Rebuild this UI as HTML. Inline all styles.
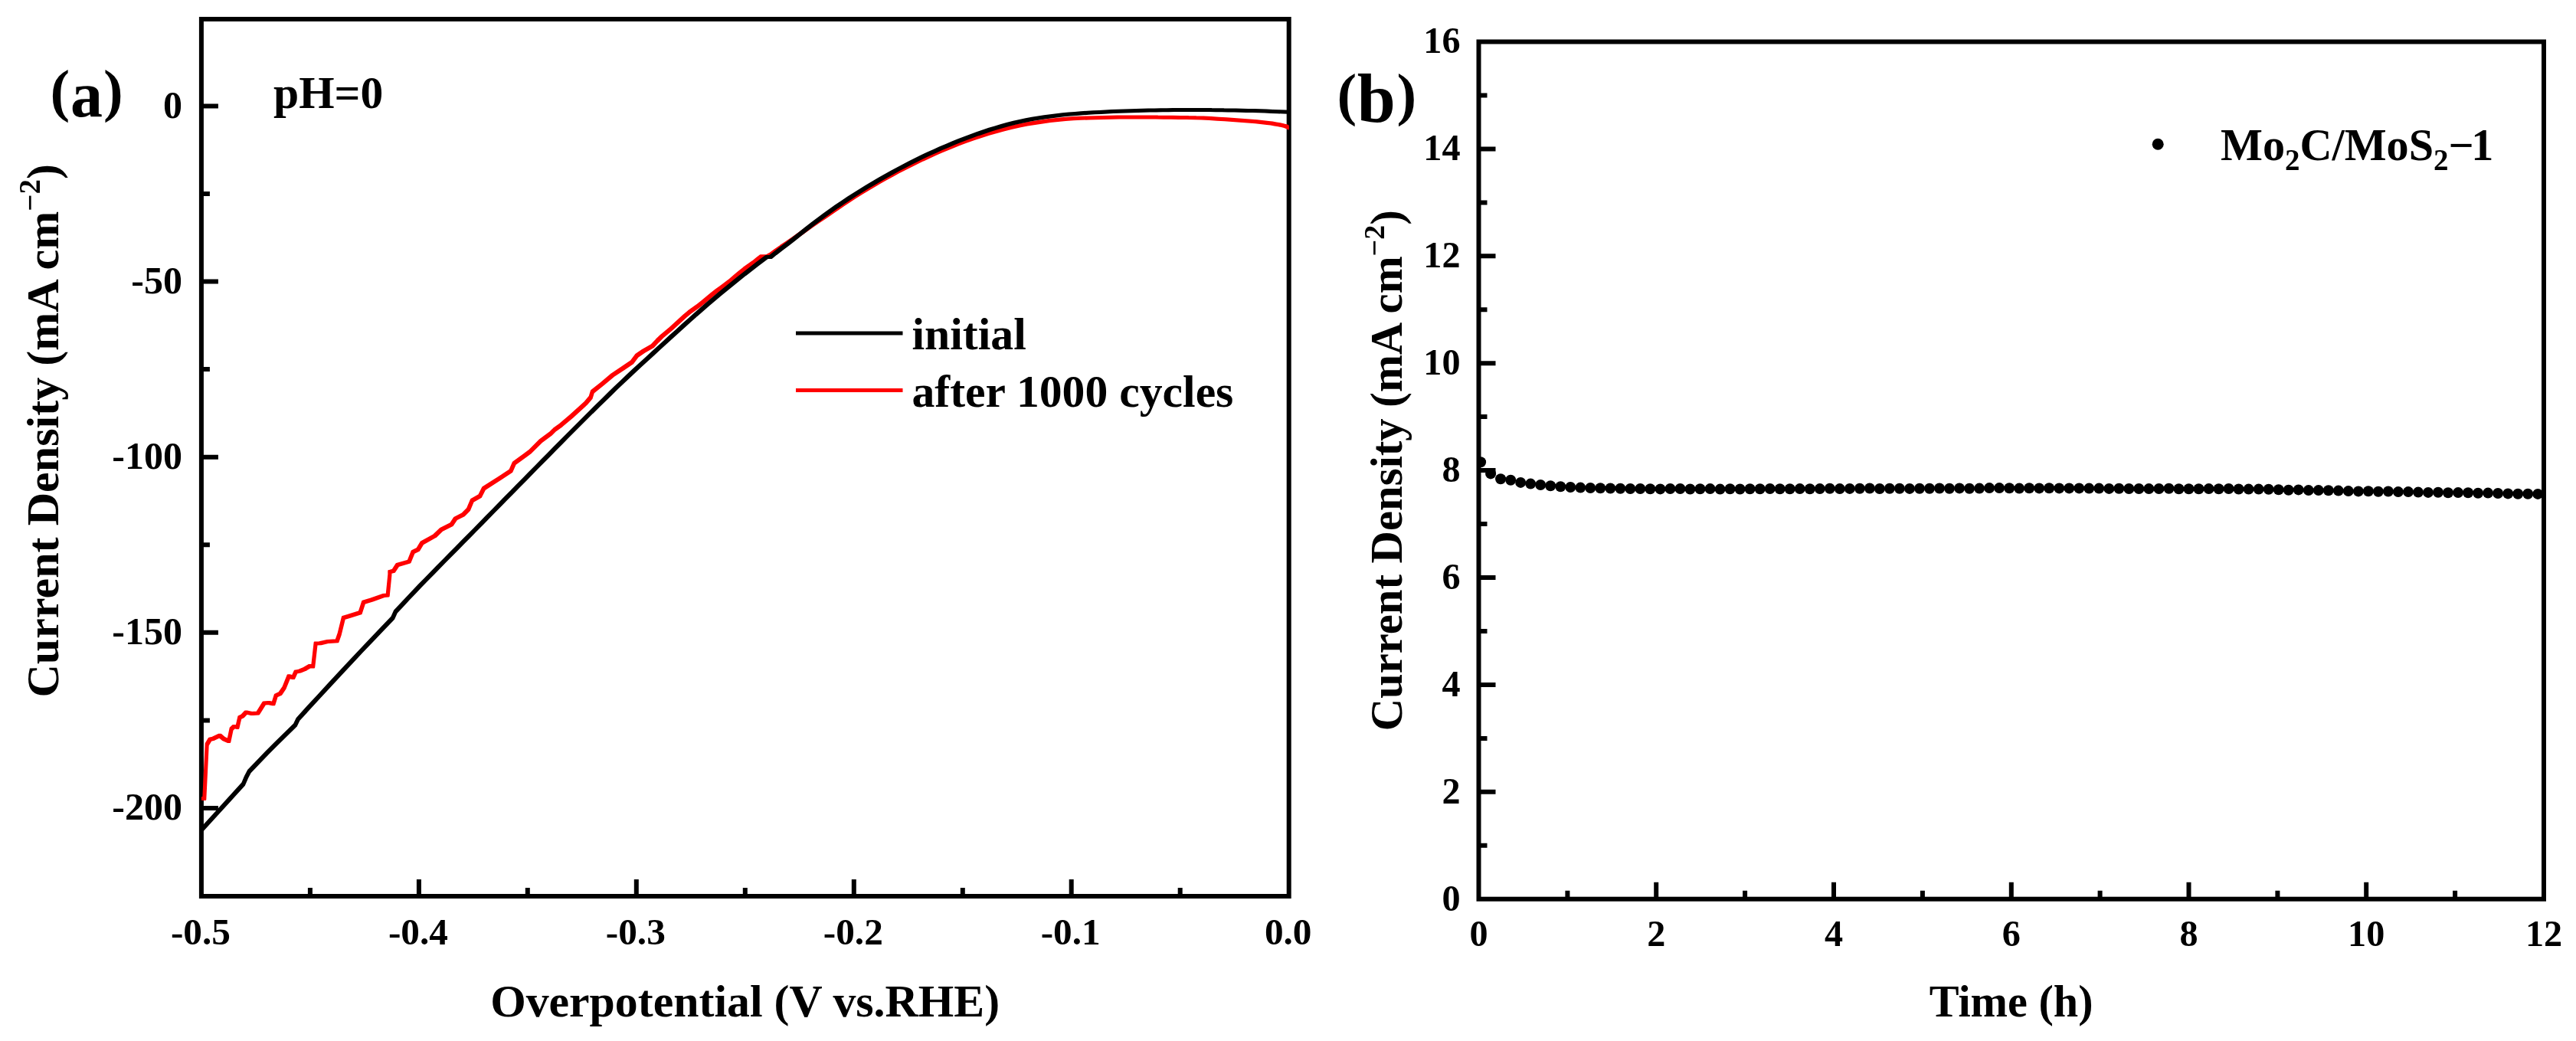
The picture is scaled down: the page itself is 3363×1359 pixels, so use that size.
<!DOCTYPE html>
<html><head><meta charset="utf-8"><title>Figure</title>
<style>
html,body{margin:0;padding:0;background:#fff;}
svg{display:block;}
text{font-family:"Liberation Serif","Times New Roman",serif;font-weight:bold;fill:#000;}
</style></head><body>
<svg width="3363" height="1359" viewBox="0 0 3363 1359">
<rect width="3363" height="1359" fill="#fff"/>
<filter id="soft" x="0" y="0" width="3363" height="1359" filterUnits="userSpaceOnUse"><feGaussianBlur stdDeviation="0.55"/></filter>
<g filter="url(#soft)">

<g id="panel-a">
<clipPath id="clipa"><rect x="262.9" y="25.0" width="1419.8000000000002" height="1145.0"/></clipPath>
<path d="M262.9,138.5h22 M262.9,253.1h11 M262.9,367.6h22 M262.9,482.1h11 M262.9,596.7h22 M262.9,711.2h11 M262.9,825.8h22 M262.9,940.4h11 M262.9,1054.9h22 M404.9,1170.0v-11 M546.9,1170.0v-22 M688.8,1170.0v-11 M830.8,1170.0v-22 M972.8,1170.0v-11 M1114.8,1170.0v-22 M1256.8,1170.0v-11 M1398.7,1170.0v-22 M1540.7,1170.0v-11" stroke="#000" stroke-width="6.0" fill="none"/>
<rect x="262.9" y="25.0" width="1419.8" height="1145.0" fill="none" stroke="#000" stroke-width="6.0"/>
<g clip-path="url(#clipa)" stroke-width="2.6" stroke-linejoin="round">
<path d="M263.9,1041.3L268.0,1041.3L268.0,1043.7L263.9,1043.7ZM265.6,1041.3L269.0,970.7L271.4,970.7L271.4,973.1L268.0,1043.7L265.6,1043.7ZM269.0,970.7L273.0,964.0L275.4,964.0L275.4,966.4L271.4,973.1L269.0,973.1ZM273.0,964.0L277.4,963.0L279.8,963.0L279.8,965.4L275.4,966.4L273.0,966.4ZM277.4,963.0L285.8,959.0L288.2,959.0L288.2,961.4L279.8,965.4L277.4,965.4ZM285.8,959.0L288.2,959.0L293.2,963.3L293.2,965.7L290.8,965.7L285.8,961.4ZM290.8,963.3L293.2,963.3L300.0,966.4L300.0,968.8L297.6,968.8L290.8,965.7ZM297.6,966.4L300.9,950.5L303.3,950.5L303.3,952.9L300.0,968.8L297.6,968.8ZM300.9,950.5L304.3,947.2L306.7,947.2L306.7,949.6L303.3,952.9L300.9,952.9ZM304.3,947.2L306.7,947.2L311.1,948.2L311.1,950.6L308.7,950.6L304.3,949.6ZM308.7,948.2L311.7,935.4L314.1,935.4L314.1,937.8L311.1,950.6L308.7,950.6ZM311.7,935.4L315.4,933.7L317.8,933.7L317.8,936.1L314.1,937.8L311.7,937.8ZM315.4,933.7L320.1,928.7L322.5,928.7L322.5,931.1L317.8,936.1L315.4,936.1ZM320.1,928.7L322.5,928.7L330.2,930.4L330.2,932.8L327.8,932.8L320.1,931.1ZM327.8,930.4L335.6,929.7L338.0,929.7L338.0,932.1L330.2,932.8L327.8,932.8ZM335.6,929.7L343.6,916.9L346.0,916.9L346.0,919.3L338.0,932.1L335.6,932.1ZM343.6,916.9L349.7,916.3L352.1,916.3L352.1,918.7L346.0,919.3L343.6,919.3ZM349.7,916.3L352.1,916.3L358.1,917.6L358.1,920.0L355.7,920.0L349.7,918.7ZM355.7,917.6L359.1,906.8L361.5,906.8L361.5,909.2L358.1,920.0L355.7,920.0ZM359.1,906.8L364.8,904.1L367.2,904.1L367.2,906.5L361.5,909.2L359.1,909.2ZM364.8,904.1L369.8,896.7L372.2,896.7L372.2,899.1L367.2,906.5L364.8,906.5ZM369.8,896.7L375.9,881.6L378.3,881.6L378.3,884.0L372.2,899.1L369.8,899.1ZM375.9,881.6L378.3,881.6L384.0,883.3L384.0,885.7L381.6,885.7L375.9,884.0ZM381.6,883.3L385.0,875.9L387.4,875.9L387.4,878.3L384.0,885.7L381.6,885.7ZM385.0,875.9L390.0,874.9L392.4,874.9L392.4,877.3L387.4,878.3L385.0,878.3ZM390.0,874.9L396.7,872.2L399.1,872.2L399.1,874.6L392.4,877.3L390.0,877.3ZM396.7,872.2L403.5,868.2L405.9,868.2L405.9,870.6L399.1,874.6L396.7,874.6ZM403.5,868.2L405.9,868.2L409.9,868.8L409.9,871.2L407.5,871.2L403.5,870.6ZM407.5,868.8L410.9,838.9L413.3,838.9L413.3,841.3L409.9,871.2L407.5,871.2ZM410.9,838.9L416.9,838.6L419.3,838.6L419.3,841.0L413.3,841.3L410.9,841.3ZM416.9,838.6L427.0,836.2L429.4,836.2L429.4,838.6L419.3,841.0L416.9,841.0ZM427.0,836.2L438.8,835.6L441.2,835.6L441.2,838.0L429.4,838.6L427.0,838.6ZM438.8,835.6L442.1,826.1L444.5,826.1L444.5,828.5L441.2,838.0L438.8,838.0ZM442.1,826.1L447.2,805.3L449.6,805.3L449.6,807.7L444.5,828.5L442.1,828.5ZM447.2,805.3L453.9,803.3L456.3,803.3L456.3,805.7L449.6,807.7L447.2,807.7ZM453.9,803.3L469.0,798.6L471.4,798.6L471.4,801.0L456.3,805.7L453.9,805.7ZM469.0,798.6L473.4,785.1L475.8,785.1L475.8,787.5L471.4,801.0L469.0,801.0ZM473.4,785.1L484.2,781.8L486.6,781.8L486.6,784.2L475.8,787.5L473.4,787.5ZM484.2,781.8L499.3,776.4L501.7,776.4L501.7,778.8L486.6,784.2L484.2,784.2ZM499.3,776.4L505.0,775.7L507.4,775.7L507.4,778.1L501.7,778.8L499.3,778.8ZM505.0,775.7L507.7,748.8L510.1,748.8L510.1,751.2L507.4,778.1L505.0,778.1ZM507.6,745.4L510.0,745.4L510.1,748.8L510.1,751.2L507.7,751.2L507.6,747.8ZM507.6,745.4L512.7,744.0L515.1,744.0L515.1,746.4L510.0,747.8L507.6,747.8ZM512.7,744.0L517.7,736.3L520.1,736.3L520.1,738.7L515.1,746.4L512.7,746.4ZM517.7,736.3L532.9,731.9L535.3,731.9L535.3,734.3L520.1,738.7L517.7,738.7ZM532.9,731.9L537.9,719.5L540.3,719.5L540.3,721.9L535.3,734.3L532.9,734.3ZM537.9,719.5L544.6,716.1L547.0,716.1L547.0,718.5L540.3,721.9L537.9,721.9ZM544.6,716.1L549.7,707.7L552.1,707.7L552.1,710.1L547.0,718.5L544.6,718.5ZM549.7,707.7L566.5,698.3L568.9,698.3L568.9,700.7L552.1,710.1L549.7,710.1ZM566.5,698.3L574.9,690.2L577.3,690.2L577.3,692.6L568.9,700.7L566.5,700.7ZM574.9,690.2L588.3,683.5L590.7,683.5L590.7,685.9L577.3,692.6L574.9,692.6ZM588.3,683.5L593.4,675.8L595.8,675.8L595.8,678.2L590.7,685.9L588.3,685.9ZM593.4,675.8L603.5,670.7L605.9,670.7L605.9,673.1L595.8,678.2L593.4,678.2ZM603.5,670.7L610.2,664.0L612.6,664.0L612.6,666.4L605.9,673.1L603.5,673.1ZM610.2,664.0L615.2,652.2L617.6,652.2L617.6,654.6L612.6,666.4L610.2,666.4ZM615.2,652.2L625.3,646.5L627.7,646.5L627.7,648.9L617.6,654.6L615.2,654.6ZM625.3,646.5L630.4,636.4L632.8,636.4L632.8,638.8L627.7,648.9L625.3,648.9ZM630.4,636.4L650.5,623.6L652.9,623.6L652.9,626.0L632.8,638.8L630.4,638.8ZM650.5,623.6L665.7,613.6L668.1,613.6L668.1,616.0L652.9,626.0L650.5,626.0ZM665.7,613.6L670.1,603.5L672.5,603.5L672.5,605.9L668.1,616.0L665.7,616.0ZM670.1,603.5L684.2,593.4L686.6,593.4L686.6,595.8L672.5,605.9L670.1,605.9ZM684.2,593.4L690.9,588.3L693.3,588.3L693.3,590.7L686.6,595.8L684.2,595.8ZM690.9,588.3L704.3,574.9L706.7,574.9L706.7,577.3L693.3,590.7L690.9,590.7ZM704.3,574.9L717.8,564.8L720.2,564.8L720.2,567.2L706.7,577.3L704.3,577.3ZM717.8,564.8L722.8,559.8L725.2,559.8L725.2,562.2L720.2,567.2L717.8,567.2ZM722.8,559.8L731.2,553.7L733.6,553.7L733.6,556.1L725.2,562.2L722.8,562.2ZM731.2,553.7L744.7,542.3L747.1,542.3L747.1,544.7L733.6,556.1L731.2,556.1ZM744.7,542.3L763.2,525.5L765.6,525.5L765.6,527.9L747.1,544.7L744.7,544.7ZM763.2,525.5L769.9,517.7L772.3,517.7L772.3,520.1L765.6,527.9L763.2,527.9ZM769.9,517.7L772.3,510.0L774.7,510.0L774.7,512.4L772.3,520.1L769.9,520.1ZM772.3,510.0L785.0,499.9L787.4,499.9L787.4,502.3L774.7,512.4L772.3,512.4ZM785.0,499.9L798.5,488.5L800.9,488.5L800.9,490.9L787.4,502.3L785.0,502.3ZM798.5,488.5L811.9,479.7L814.3,479.7L814.3,482.1L800.9,490.9L798.5,490.9ZM811.9,479.7L823.7,471.7L826.1,471.7L826.1,474.1L814.3,482.1L811.9,482.1ZM823.7,471.7L830.4,462.9L832.8,462.9L832.8,465.3L826.1,474.1L823.7,474.1ZM830.4,462.9L838.8,457.2L841.2,457.2L841.2,459.6L832.8,465.3L830.4,465.3ZM838.8,457.2L850.6,450.5L853.0,450.5L853.0,452.9L841.2,459.6L838.8,459.6ZM850.6,450.5L856.8,443.8L859.2,443.8L859.2,446.2L853.0,452.9L850.6,452.9ZM856.8,443.8L862.8,437.9L865.2,437.9L865.2,440.3L859.2,446.2L856.8,446.2ZM862.8,437.9L868.8,432.9L871.2,432.9L871.2,435.3L865.2,440.3L862.8,440.3ZM868.8,432.9L874.8,427.9L877.2,427.9L877.2,430.3L871.2,435.3L868.8,435.3ZM874.8,427.9L880.8,422.5L883.2,422.5L883.2,424.9L877.2,430.3L874.8,430.3ZM880.8,422.5L886.8,416.9L889.2,416.9L889.2,419.3L883.2,424.9L880.8,424.9ZM886.8,416.9L892.8,411.4L895.2,411.4L895.2,413.8L889.2,419.3L886.8,419.3ZM892.8,411.4L898.8,406.4L901.2,406.4L901.2,408.8L895.2,413.8L892.8,413.8ZM898.8,406.4L904.8,402.1L907.2,402.1L907.2,404.5L901.2,408.8L898.8,408.8ZM904.8,402.1L910.8,397.7L913.2,397.7L913.2,400.1L907.2,404.5L904.8,404.5ZM910.8,397.7L916.8,393.1L919.2,393.1L919.2,395.5L913.2,400.1L910.8,400.1ZM916.8,393.1L922.8,388.0L925.2,388.0L925.2,390.4L919.2,395.5L916.8,395.5ZM922.8,388.0L928.8,383.0L931.2,383.0L931.2,385.4L925.2,390.4L922.8,390.4ZM928.8,383.0L934.8,378.4L937.2,378.4L937.2,380.8L931.2,385.4L928.8,385.4ZM934.8,378.4L940.8,374.1L943.2,374.1L943.2,376.5L937.2,380.8L934.8,380.8ZM940.8,374.1L946.8,369.6L949.2,369.6L949.2,372.0L943.2,376.5L940.8,376.5ZM946.8,369.6L952.8,364.9L955.2,364.9L955.2,367.3L949.2,372.0L946.8,372.0ZM952.8,364.9L958.8,359.8L961.2,359.8L961.2,362.2L955.2,367.3L952.8,367.3ZM958.8,359.8L964.8,354.7L967.2,354.7L967.2,357.1L961.2,362.2L958.8,362.2ZM964.8,354.7L970.8,349.9L973.2,349.9L973.2,352.3L967.2,357.1L964.8,357.1ZM970.8,349.9L976.8,345.6L979.2,345.6L979.2,348.0L973.2,352.3L970.8,352.3ZM976.8,345.6L982.8,341.4L985.2,341.4L985.2,343.8L979.2,348.0L976.8,348.0ZM982.8,341.4L988.8,336.6L991.2,336.6L991.2,339.0L985.2,343.8L982.8,343.8ZM988.8,336.6L992.8,333.5L995.2,333.5L995.2,335.9L991.2,339.0L988.8,339.0ZM992.8,333.5L1003.2,333.5L1003.2,335.9L992.8,335.9ZM1000.8,333.5L1004.8,331.2L1007.2,331.2L1007.2,333.6L1003.2,335.9L1000.8,335.9ZM1004.8,331.2L1010.8,326.8L1013.2,326.8L1013.2,329.2L1007.2,333.6L1004.8,333.6ZM1010.8,326.8L1018.8,321.2L1021.2,321.2L1021.2,323.6L1013.2,329.2L1010.8,329.2ZM1018.8,321.2L1026.8,315.8L1029.2,315.8L1029.2,318.2L1021.2,323.6L1018.8,323.6ZM1026.8,315.8L1034.8,310.2L1037.2,310.2L1037.2,312.6L1029.2,318.2L1026.8,318.2ZM1034.8,310.2L1042.8,304.6L1045.2,304.6L1045.2,307.0L1037.2,312.6L1034.8,312.6ZM1042.8,304.6L1050.8,298.8L1053.2,298.8L1053.2,301.2L1045.2,307.0L1042.8,307.0ZM1050.8,298.8L1058.8,293.1L1061.2,293.1L1061.2,295.5L1053.2,301.2L1050.8,301.2ZM1058.8,293.1L1066.8,287.5L1069.2,287.5L1069.2,289.9L1061.2,295.5L1058.8,295.5ZM1066.8,287.5L1074.8,282.2L1077.2,282.2L1077.2,284.6L1069.2,289.9L1066.8,289.9ZM1074.8,282.2L1082.8,276.7L1085.2,276.7L1085.2,279.1L1077.2,284.6L1074.8,284.6ZM1082.8,276.7L1090.8,271.2L1093.2,271.2L1093.2,273.6L1085.2,279.1L1082.8,279.1ZM1090.8,271.2L1098.8,265.7L1101.2,265.7L1101.2,268.1L1093.2,273.6L1090.8,273.6ZM1098.8,265.7L1106.8,260.5L1109.2,260.5L1109.2,262.9L1101.2,268.1L1098.8,268.1ZM1106.8,260.5L1114.8,255.3L1117.2,255.3L1117.2,257.7L1109.2,262.9L1106.8,262.9ZM1114.8,255.3L1122.8,250.3L1125.2,250.3L1125.2,252.7L1117.2,257.7L1114.8,257.7ZM1122.8,250.3L1130.8,245.4L1133.2,245.4L1133.2,247.8L1125.2,252.7L1122.8,252.7ZM1130.8,245.4L1138.8,240.7L1141.2,240.7L1141.2,243.1L1133.2,247.8L1130.8,247.8ZM1138.8,240.7L1146.8,236.0L1149.2,236.0L1149.2,238.4L1141.2,243.1L1138.8,243.1ZM1146.8,236.0L1154.8,231.5L1157.2,231.5L1157.2,233.9L1149.2,238.4L1146.8,238.4ZM1154.8,231.5L1162.8,227.1L1165.2,227.1L1165.2,229.5L1157.2,233.9L1154.8,233.9ZM1162.8,227.1L1170.8,222.8L1173.2,222.8L1173.2,225.2L1165.2,229.5L1162.8,229.5ZM1170.8,222.8L1178.8,218.6L1181.2,218.6L1181.2,221.0L1173.2,225.2L1170.8,225.2ZM1178.8,218.6L1186.8,214.6L1189.2,214.6L1189.2,217.0L1181.2,221.0L1178.8,221.0ZM1186.8,214.6L1194.8,210.6L1197.2,210.6L1197.2,213.0L1189.2,217.0L1186.8,217.0ZM1194.8,210.6L1202.8,206.8L1205.2,206.8L1205.2,209.2L1197.2,213.0L1194.8,213.0ZM1202.8,206.8L1210.8,203.1L1213.2,203.1L1213.2,205.5L1205.2,209.2L1202.8,209.2ZM1210.8,203.1L1218.8,199.4L1221.2,199.4L1221.2,201.8L1213.2,205.5L1210.8,205.5ZM1218.8,199.4L1226.8,195.9L1229.2,195.9L1229.2,198.3L1221.2,201.8L1218.8,201.8ZM1226.8,195.9L1234.8,192.6L1237.2,192.6L1237.2,195.0L1229.2,198.3L1226.8,198.3ZM1234.8,192.6L1242.8,189.3L1245.2,189.3L1245.2,191.7L1237.2,195.0L1234.8,195.0ZM1242.8,189.3L1248.8,186.9L1251.2,186.9L1251.2,189.3L1245.2,191.7L1242.8,191.7ZM1248.8,186.9L1258.8,183.2L1261.2,183.2L1261.2,185.6L1251.2,189.3L1248.8,189.3ZM1258.8,183.2L1268.8,179.7L1271.2,179.7L1271.2,182.1L1261.2,185.6L1258.8,185.6ZM1268.8,179.7L1278.8,176.4L1281.2,176.4L1281.2,178.8L1271.2,182.1L1268.8,182.1ZM1278.8,176.4L1288.8,173.2L1291.2,173.2L1291.2,175.6L1281.2,178.8L1278.8,178.8ZM1288.8,173.2L1298.8,170.3L1301.2,170.3L1301.2,172.7L1291.2,175.6L1288.8,175.6ZM1298.8,170.3L1308.8,167.6L1311.2,167.6L1311.2,170.0L1301.2,172.7L1298.8,172.7ZM1308.8,167.6L1318.8,165.2L1321.2,165.2L1321.2,167.6L1311.2,170.0L1308.8,170.0ZM1318.8,165.2L1328.8,162.9L1331.2,162.9L1331.2,165.3L1321.2,167.6L1318.8,167.6ZM1328.8,162.9L1338.8,160.9L1341.2,160.9L1341.2,163.3L1331.2,165.3L1328.8,165.3ZM1338.8,160.9L1348.8,159.2L1351.2,159.2L1351.2,161.6L1341.2,163.3L1338.8,163.3ZM1348.8,159.2L1358.8,157.7L1361.2,157.7L1361.2,160.1L1351.2,161.6L1348.8,161.6ZM1358.8,157.7L1368.8,156.4L1371.2,156.4L1371.2,158.8L1361.2,160.1L1358.8,160.1ZM1368.8,156.4L1378.8,155.3L1381.2,155.3L1381.2,157.7L1371.2,158.8L1368.8,158.8ZM1378.8,155.3L1388.8,154.3L1391.2,154.3L1391.2,156.7L1381.2,157.7L1378.8,157.7ZM1388.8,154.3L1398.8,153.6L1401.2,153.6L1401.2,156.0L1391.2,156.7L1388.8,156.7ZM1398.8,153.6L1408.8,153.1L1411.2,153.1L1411.2,155.5L1401.2,156.0L1398.8,156.0ZM1408.8,153.1L1418.8,152.8L1421.2,152.8L1421.2,155.2L1411.2,155.5L1408.8,155.5ZM1418.8,152.8L1428.8,152.5L1431.2,152.5L1431.2,154.9L1421.2,155.2L1418.8,155.2ZM1428.8,152.5L1438.8,152.3L1441.2,152.3L1441.2,154.7L1431.2,154.9L1428.8,154.9ZM1438.8,152.3L1448.8,152.1L1451.2,152.1L1451.2,154.5L1441.2,154.7L1438.8,154.7ZM1448.8,152.1L1458.8,151.9L1461.2,151.9L1461.2,154.3L1451.2,154.5L1448.8,154.5ZM1458.8,151.9L1468.8,151.8L1471.2,151.8L1471.2,154.2L1461.2,154.3L1458.8,154.3ZM1468.8,151.8L1478.8,151.7L1481.2,151.7L1481.2,154.1L1471.2,154.2L1468.8,154.2ZM1478.8,151.7L1481.2,151.7L1491.2,151.8L1491.2,154.2L1488.8,154.2L1478.8,154.1ZM1488.8,151.8L1501.2,151.8L1501.2,154.2L1488.8,154.2ZM1498.8,151.8L1501.2,151.8L1511.2,151.9L1511.2,154.3L1508.8,154.3L1498.8,154.2ZM1508.8,151.9L1511.2,151.9L1521.2,152.1L1521.2,154.5L1518.8,154.5L1508.8,154.3ZM1518.8,152.1L1531.2,152.1L1531.2,154.5L1518.8,154.5ZM1528.8,152.1L1531.2,152.1L1541.2,152.2L1541.2,154.6L1538.8,154.6L1528.8,154.5ZM1538.8,152.2L1541.2,152.2L1551.2,152.4L1551.2,154.8L1548.8,154.8L1538.8,154.6ZM1548.8,152.4L1551.2,152.4L1561.2,152.6L1561.2,155.0L1558.8,155.0L1548.8,154.8ZM1558.8,152.6L1561.2,152.6L1571.2,152.8L1571.2,155.2L1568.8,155.2L1558.8,155.0ZM1568.8,152.8L1571.2,152.8L1581.2,153.4L1581.2,155.8L1578.8,155.8L1568.8,155.2ZM1578.8,153.4L1581.2,153.4L1591.2,154.0L1591.2,156.4L1588.8,156.4L1578.8,155.8ZM1588.8,154.0L1591.2,154.0L1601.2,154.6L1601.2,157.0L1598.8,157.0L1588.8,156.4ZM1598.8,154.6L1601.2,154.6L1611.2,155.3L1611.2,157.7L1608.8,157.7L1598.8,157.0ZM1608.8,155.3L1611.2,155.3L1621.2,156.0L1621.2,158.4L1618.8,158.4L1608.8,157.7ZM1618.8,156.0L1621.2,156.0L1631.2,156.7L1631.2,159.1L1628.8,159.1L1618.8,158.4ZM1628.8,156.7L1631.2,156.7L1641.2,157.6L1641.2,160.0L1638.8,160.0L1628.8,159.1ZM1638.8,157.6L1641.2,157.6L1656.2,159.2L1656.2,161.6L1653.8,161.6L1638.8,160.0ZM1653.8,159.2L1656.2,159.2L1661.2,159.9L1661.2,162.3L1658.8,162.3L1653.8,161.6ZM1658.8,159.9L1661.2,159.9L1666.2,160.7L1666.2,163.1L1663.8,163.1L1658.8,162.3ZM1663.8,160.7L1666.2,160.7L1671.2,161.5L1671.2,163.9L1668.8,163.9L1663.8,163.1ZM1668.8,161.5L1671.2,161.5L1675.2,162.4L1675.2,164.8L1672.8,164.8L1668.8,163.9ZM1672.8,162.4L1675.2,162.4L1679.2,163.4L1679.2,165.8L1676.8,165.8L1672.8,164.8ZM1676.8,163.4L1679.2,163.4L1681.6,164.3L1681.6,166.7L1679.2,166.7L1676.8,165.8ZM1679.2,164.3L1681.6,164.3L1684.2,165.7L1684.2,168.1L1681.8,168.1L1679.2,166.7Z" fill="#ff0000" stroke="#ff0000"/>
<path d="M261.9,1082.3L280.1,1062.3L282.5,1062.3L282.5,1064.7L264.3,1084.7L261.9,1084.7ZM280.1,1062.3L298.2,1042.4L300.6,1042.4L300.6,1044.8L282.5,1064.7L280.1,1064.7ZM298.2,1042.4L316.4,1022.4L318.8,1022.4L318.8,1024.8L300.6,1044.8L298.2,1044.8ZM316.4,1022.4L320.3,1013.3L322.7,1013.3L322.7,1015.7L318.8,1024.8L316.4,1024.8ZM320.3,1013.3L324.1,1006.0L326.5,1006.0L326.5,1008.4L322.7,1015.7L320.3,1015.7ZM324.1,1006.0L336.1,993.4L338.5,993.4L338.5,995.8L326.5,1008.4L324.1,1008.4ZM336.1,993.4L348.1,981.0L350.5,981.0L350.5,983.4L338.5,995.8L336.1,995.8ZM348.1,981.0L360.1,968.9L362.5,968.9L362.5,971.3L350.5,983.4L348.1,983.4ZM360.1,968.9L372.1,957.1L374.5,957.1L374.5,959.5L362.5,971.3L360.1,971.3ZM372.1,957.1L384.1,945.5L386.5,945.5L386.5,947.9L374.5,959.5L372.1,959.5ZM384.1,945.5L387.8,937.8L390.2,937.8L390.2,940.2L386.5,947.9L384.1,947.9ZM387.8,937.8L401.5,922.7L403.9,922.7L403.9,925.1L390.2,940.2L387.8,940.2ZM401.5,922.7L415.3,907.8L417.7,907.8L417.7,910.2L403.9,925.1L401.5,925.1ZM415.3,907.8L429.0,892.9L431.4,892.9L431.4,895.3L417.7,910.2L415.3,910.2ZM429.0,892.9L442.7,878.1L445.1,878.1L445.1,880.5L431.4,895.3L429.0,895.3ZM442.7,878.1L456.5,863.4L458.9,863.4L458.9,865.8L445.1,880.5L442.7,880.5ZM456.5,863.4L470.2,848.8L472.6,848.8L472.6,851.2L458.9,865.8L456.5,865.8ZM470.2,848.8L483.9,834.4L486.3,834.4L486.3,836.8L472.6,851.2L470.2,851.2ZM483.9,834.4L497.7,820.0L500.1,820.0L500.1,822.4L486.3,836.8L483.9,836.8ZM497.7,820.0L511.4,805.7L513.8,805.7L513.8,808.1L500.1,822.4L497.7,822.4ZM511.4,805.7L515.1,797.5L517.5,797.5L517.5,799.9L513.8,808.1L511.4,808.1ZM515.1,797.5L523.1,788.9L525.5,788.9L525.5,791.3L517.5,799.9L515.1,799.9ZM523.1,788.9L531.1,780.3L533.5,780.3L533.5,782.7L525.5,791.3L523.1,791.3ZM531.1,780.3L539.1,771.9L541.5,771.9L541.5,774.3L533.5,782.7L531.1,782.7ZM539.1,771.9L547.1,763.5L549.5,763.5L549.5,765.9L541.5,774.3L539.1,774.3ZM547.1,763.5L555.1,755.3L557.5,755.3L557.5,757.7L549.5,765.9L547.1,765.9ZM555.1,755.3L563.1,747.1L565.5,747.1L565.5,749.5L557.5,757.7L555.1,757.7ZM563.1,747.1L571.1,738.9L573.5,738.9L573.5,741.3L565.5,749.5L563.1,749.5ZM571.1,738.9L579.1,730.8L581.5,730.8L581.5,733.2L573.5,741.3L571.1,741.3ZM579.1,730.8L587.1,722.7L589.5,722.7L589.5,725.1L581.5,733.2L579.1,733.2ZM587.1,722.7L595.1,714.6L597.5,714.6L597.5,717.0L589.5,725.1L587.1,725.1ZM595.1,714.6L603.1,706.5L605.5,706.5L605.5,708.9L597.5,717.0L595.1,717.0ZM603.1,706.5L611.1,698.4L613.5,698.4L613.5,700.8L605.5,708.9L603.1,708.9ZM611.1,698.4L619.1,690.3L621.5,690.3L621.5,692.7L613.5,700.8L611.1,700.8ZM619.1,690.3L627.1,682.1L629.5,682.1L629.5,684.5L621.5,692.7L619.1,692.7ZM627.1,682.1L635.1,674.0L637.5,674.0L637.5,676.4L629.5,684.5L627.1,684.5ZM635.1,674.0L643.1,665.8L645.5,665.8L645.5,668.2L637.5,676.4L635.1,676.4ZM643.1,665.8L651.1,657.7L653.5,657.7L653.5,660.1L645.5,668.2L643.1,668.2ZM651.1,657.7L659.1,649.5L661.5,649.5L661.5,651.9L653.5,660.1L651.1,660.1ZM659.1,649.5L667.1,641.4L669.5,641.4L669.5,643.8L661.5,651.9L659.1,651.9ZM667.1,641.4L675.1,633.2L677.5,633.2L677.5,635.6L669.5,643.8L667.1,643.8ZM675.1,633.2L683.1,625.1L685.5,625.1L685.5,627.5L677.5,635.6L675.1,635.6ZM683.1,625.1L691.1,616.9L693.5,616.9L693.5,619.3L685.5,627.5L683.1,627.5ZM691.1,616.9L699.1,608.8L701.5,608.8L701.5,611.2L693.5,619.3L691.1,619.3ZM699.1,608.8L707.1,600.7L709.5,600.7L709.5,603.1L701.5,611.2L699.1,611.2ZM707.1,600.7L715.1,592.6L717.5,592.6L717.5,595.0L709.5,603.1L707.1,603.1ZM715.1,592.6L723.1,584.5L725.5,584.5L725.5,586.9L717.5,595.0L715.1,595.0ZM723.1,584.5L731.1,576.4L733.5,576.4L733.5,578.8L725.5,586.9L723.1,586.9ZM731.1,576.4L739.1,568.3L741.5,568.3L741.5,570.7L733.5,578.8L731.1,578.8ZM739.1,568.3L747.1,560.3L749.5,560.3L749.5,562.7L741.5,570.7L739.1,570.7ZM747.1,560.3L755.1,552.3L757.5,552.3L757.5,554.7L749.5,562.7L747.1,562.7ZM755.1,552.3L763.1,544.3L765.5,544.3L765.5,546.7L757.5,554.7L755.1,554.7ZM763.1,544.3L771.1,536.3L773.5,536.3L773.5,538.7L765.5,546.7L763.1,546.7ZM771.1,536.3L779.1,528.4L781.5,528.4L781.5,530.8L773.5,538.7L771.1,538.7ZM779.1,528.4L787.1,520.6L789.5,520.6L789.5,523.0L781.5,530.8L779.1,530.8ZM787.1,520.6L795.1,512.8L797.5,512.8L797.5,515.2L789.5,523.0L787.1,523.0ZM795.1,512.8L803.1,505.0L805.5,505.0L805.5,507.4L797.5,515.2L795.1,515.2ZM803.1,505.0L811.1,497.4L813.5,497.4L813.5,499.8L805.5,507.4L803.1,507.4ZM811.1,497.4L819.1,489.8L821.5,489.8L821.5,492.2L813.5,499.8L811.1,499.8ZM819.1,489.8L827.1,482.3L829.5,482.3L829.5,484.7L821.5,492.2L819.1,492.2ZM827.1,482.3L835.1,474.9L837.5,474.9L837.5,477.3L829.5,484.7L827.1,484.7ZM835.1,474.9L843.1,467.6L845.5,467.6L845.5,470.0L837.5,477.3L835.1,477.3ZM843.1,467.6L851.1,460.3L853.5,460.3L853.5,462.7L845.5,470.0L843.1,470.0ZM851.1,460.3L859.1,453.0L861.5,453.0L861.5,455.4L853.5,462.7L851.1,462.7ZM859.1,453.0L867.1,445.7L869.5,445.7L869.5,448.1L861.5,455.4L859.1,455.4ZM867.1,445.7L875.1,438.3L877.5,438.3L877.5,440.7L869.5,448.1L867.1,448.1ZM875.1,438.3L883.1,431.1L885.5,431.1L885.5,433.5L877.5,440.7L875.1,440.7ZM883.1,431.1L891.1,423.8L893.5,423.8L893.5,426.2L885.5,433.5L883.1,433.5ZM891.1,423.8L899.1,416.6L901.5,416.6L901.5,419.0L893.5,426.2L891.1,426.2ZM899.1,416.6L907.1,409.5L909.5,409.5L909.5,411.9L901.5,419.0L899.1,419.0ZM907.1,409.5L915.1,402.5L917.5,402.5L917.5,404.9L909.5,411.9L907.1,411.9ZM915.1,402.5L923.1,395.6L925.5,395.6L925.5,398.0L917.5,404.9L915.1,404.9ZM923.1,395.6L931.1,388.8L933.5,388.8L933.5,391.2L925.5,398.0L923.1,398.0ZM931.1,388.8L939.1,382.1L941.5,382.1L941.5,384.5L933.5,391.2L931.1,391.2ZM939.1,382.1L947.1,375.5L949.5,375.5L949.5,377.9L941.5,384.5L939.1,384.5ZM947.1,375.5L955.1,369.0L957.5,369.0L957.5,371.4L949.5,377.9L947.1,377.9ZM955.1,369.0L963.1,362.6L965.5,362.6L965.5,365.0L957.5,371.4L955.1,371.4ZM963.1,362.6L971.1,356.2L973.5,356.2L973.5,358.6L965.5,365.0L963.1,365.0ZM971.1,356.2L979.1,350.0L981.5,350.0L981.5,352.4L973.5,358.6L971.1,358.6ZM979.1,350.0L987.1,343.9L989.5,343.9L989.5,346.3L981.5,352.4L979.1,352.4ZM987.1,343.9L995.1,337.8L997.5,337.8L997.5,340.2L989.5,346.3L987.1,346.3ZM995.1,337.8L999.8,334.3L1002.2,334.3L1002.2,336.7L997.5,340.2L995.1,340.2ZM999.8,334.3L1004.6,334.3L1004.6,336.7L999.8,336.7ZM1002.2,334.3L1004.8,334.3L1004.8,336.7L1002.2,336.7ZM1002.4,334.3L1005.5,334.3L1005.5,336.7L1002.4,336.7ZM1003.1,334.3L1007.2,334.3L1007.2,336.7L1003.1,336.7ZM1004.8,334.3L1011.1,329.2L1013.5,329.2L1013.5,331.6L1007.2,336.7L1004.8,336.7ZM1011.1,329.2L1019.1,323.1L1021.5,323.1L1021.5,325.5L1013.5,331.6L1011.1,331.6ZM1019.1,323.1L1027.1,317.0L1029.5,317.0L1029.5,319.4L1021.5,325.5L1019.1,325.5ZM1027.1,317.0L1035.1,310.8L1037.5,310.8L1037.5,313.2L1029.5,319.4L1027.1,319.4ZM1035.1,310.8L1043.1,304.4L1045.5,304.4L1045.5,306.8L1037.5,313.2L1035.1,313.2ZM1043.1,304.4L1051.1,298.0L1053.5,298.0L1053.5,300.4L1045.5,306.8L1043.1,306.8ZM1051.1,298.0L1059.1,291.8L1061.5,291.8L1061.5,294.2L1053.5,300.4L1051.1,300.4ZM1059.1,291.8L1067.1,285.7L1069.5,285.7L1069.5,288.1L1061.5,294.2L1059.1,294.2ZM1067.1,285.7L1075.1,279.8L1077.5,279.8L1077.5,282.2L1069.5,288.1L1067.1,288.1ZM1075.1,279.8L1083.1,274.0L1085.5,274.0L1085.5,276.4L1077.5,282.2L1075.1,282.2ZM1083.1,274.0L1091.1,268.4L1093.5,268.4L1093.5,270.8L1085.5,276.4L1083.1,276.4ZM1091.1,268.4L1099.1,263.0L1101.5,263.0L1101.5,265.4L1093.5,270.8L1091.1,270.8ZM1099.1,263.0L1107.1,257.7L1109.5,257.7L1109.5,260.1L1101.5,265.4L1099.1,265.4ZM1107.1,257.7L1115.1,252.6L1117.5,252.6L1117.5,255.0L1109.5,260.1L1107.1,260.1ZM1115.1,252.6L1123.1,247.5L1125.5,247.5L1125.5,249.9L1117.5,255.0L1115.1,255.0ZM1123.1,247.5L1131.1,242.6L1133.5,242.6L1133.5,245.0L1125.5,249.9L1123.1,249.9ZM1131.1,242.6L1139.1,237.9L1141.5,237.9L1141.5,240.3L1133.5,245.0L1131.1,245.0ZM1139.1,237.9L1147.1,233.2L1149.5,233.2L1149.5,235.6L1141.5,240.3L1139.1,240.3ZM1147.1,233.2L1155.1,228.6L1157.5,228.6L1157.5,231.0L1149.5,235.6L1147.1,235.6ZM1155.1,228.6L1163.1,224.2L1165.5,224.2L1165.5,226.6L1157.5,231.0L1155.1,231.0ZM1163.1,224.2L1171.1,219.8L1173.5,219.8L1173.5,222.2L1165.5,226.6L1163.1,226.6ZM1171.1,219.8L1179.1,215.6L1181.5,215.6L1181.5,218.0L1173.5,222.2L1171.1,222.2ZM1179.1,215.6L1187.1,211.5L1189.5,211.5L1189.5,213.9L1181.5,218.0L1179.1,218.0ZM1187.1,211.5L1195.1,207.4L1197.5,207.4L1197.5,209.8L1189.5,213.9L1187.1,213.9ZM1195.1,207.4L1203.1,203.5L1205.5,203.5L1205.5,205.9L1197.5,209.8L1195.1,209.8ZM1203.1,203.5L1211.1,199.7L1213.5,199.7L1213.5,202.1L1205.5,205.9L1203.1,205.9ZM1211.1,199.7L1219.1,196.1L1221.5,196.1L1221.5,198.5L1213.5,202.1L1211.1,202.1ZM1219.1,196.1L1227.1,192.5L1229.5,192.5L1229.5,194.9L1221.5,198.5L1219.1,198.5ZM1227.1,192.5L1235.1,189.1L1237.5,189.1L1237.5,191.5L1229.5,194.9L1227.1,194.9ZM1235.1,189.1L1243.1,185.7L1245.5,185.7L1245.5,188.1L1237.5,191.5L1235.1,191.5ZM1243.1,185.7L1251.1,182.5L1253.5,182.5L1253.5,184.9L1245.5,188.1L1243.1,188.1ZM1251.1,182.5L1259.1,179.4L1261.5,179.4L1261.5,181.8L1253.5,184.9L1251.1,184.9ZM1259.1,179.4L1267.1,176.4L1269.5,176.4L1269.5,178.8L1261.5,181.8L1259.1,181.8ZM1267.1,176.4L1275.1,173.5L1277.5,173.5L1277.5,175.9L1269.5,178.8L1267.1,178.8ZM1275.1,173.5L1283.1,170.8L1285.5,170.8L1285.5,173.2L1277.5,175.9L1275.1,175.9ZM1283.1,170.8L1291.1,168.1L1293.5,168.1L1293.5,170.5L1285.5,173.2L1283.1,173.2ZM1291.1,168.1L1299.1,165.7L1301.5,165.7L1301.5,168.1L1293.5,170.5L1291.1,170.5ZM1299.1,165.7L1307.1,163.3L1309.5,163.3L1309.5,165.7L1301.5,168.1L1299.1,168.1ZM1307.1,163.3L1315.1,161.1L1317.5,161.1L1317.5,163.5L1309.5,165.7L1307.1,165.7ZM1315.1,161.1L1323.1,159.1L1325.5,159.1L1325.5,161.5L1317.5,163.5L1315.1,163.5ZM1323.1,159.1L1331.1,157.3L1333.5,157.3L1333.5,159.7L1325.5,161.5L1323.1,161.5ZM1331.1,157.3L1339.1,155.6L1341.5,155.6L1341.5,158.0L1333.5,159.7L1331.1,159.7ZM1339.1,155.6L1347.1,154.1L1349.5,154.1L1349.5,156.5L1341.5,158.0L1339.1,158.0ZM1347.1,154.1L1355.1,152.8L1357.5,152.8L1357.5,155.2L1349.5,156.5L1347.1,156.5ZM1355.1,152.8L1363.1,151.5L1365.5,151.5L1365.5,153.9L1357.5,155.2L1355.1,155.2ZM1363.1,151.5L1371.1,150.5L1373.5,150.5L1373.5,152.9L1365.5,153.9L1363.1,153.9ZM1371.1,150.5L1379.1,149.5L1381.5,149.5L1381.5,151.9L1373.5,152.9L1371.1,152.9ZM1379.1,149.5L1387.1,148.6L1389.5,148.6L1389.5,151.0L1381.5,151.9L1379.1,151.9ZM1387.1,148.6L1395.1,147.9L1397.5,147.9L1397.5,150.3L1389.5,151.0L1387.1,151.0ZM1395.1,147.9L1403.1,147.2L1405.5,147.2L1405.5,149.6L1397.5,150.3L1395.1,150.3ZM1403.1,147.2L1411.1,146.6L1413.5,146.6L1413.5,149.0L1405.5,149.6L1403.1,149.6ZM1411.1,146.6L1419.1,146.1L1421.5,146.1L1421.5,148.5L1413.5,149.0L1411.1,149.0ZM1419.1,146.1L1427.1,145.6L1429.5,145.6L1429.5,148.0L1421.5,148.5L1419.1,148.5ZM1427.1,145.6L1435.1,145.2L1437.5,145.2L1437.5,147.6L1429.5,148.0L1427.1,148.0ZM1435.1,145.2L1443.1,144.8L1445.5,144.8L1445.5,147.2L1437.5,147.6L1435.1,147.6ZM1443.1,144.8L1451.1,144.4L1453.5,144.4L1453.5,146.8L1445.5,147.2L1443.1,147.2ZM1451.1,144.4L1459.1,144.1L1461.5,144.1L1461.5,146.5L1453.5,146.8L1451.1,146.8ZM1459.1,144.1L1467.1,143.8L1469.5,143.8L1469.5,146.2L1461.5,146.5L1459.1,146.5ZM1467.1,143.8L1475.1,143.5L1477.5,143.5L1477.5,145.9L1469.5,146.2L1467.1,146.2ZM1475.1,143.5L1483.1,143.3L1485.5,143.3L1485.5,145.7L1477.5,145.9L1475.1,145.9ZM1483.1,143.3L1491.1,143.1L1493.5,143.1L1493.5,145.5L1485.5,145.7L1483.1,145.7ZM1491.1,143.1L1499.1,142.9L1501.5,142.9L1501.5,145.3L1493.5,145.5L1491.1,145.5ZM1499.1,142.9L1507.1,142.7L1509.5,142.7L1509.5,145.1L1501.5,145.3L1499.1,145.3ZM1507.1,142.7L1515.1,142.6L1517.5,142.6L1517.5,145.0L1509.5,145.1L1507.1,145.1ZM1515.1,142.6L1523.1,142.5L1525.5,142.5L1525.5,144.9L1517.5,145.0L1515.1,145.0ZM1523.1,142.5L1531.1,142.4L1533.5,142.4L1533.5,144.8L1525.5,144.9L1523.1,144.9ZM1531.1,142.4L1539.1,142.3L1541.5,142.3L1541.5,144.7L1533.5,144.8L1531.1,144.8ZM1539.1,142.3L1549.5,142.3L1549.5,144.7L1539.1,144.7ZM1547.1,142.3L1557.5,142.3L1557.5,144.7L1547.1,144.7ZM1555.1,142.3L1565.5,142.3L1565.5,144.7L1555.1,144.7ZM1563.1,142.3L1573.5,142.3L1573.5,144.7L1563.1,144.7ZM1571.1,142.3L1573.5,142.3L1581.5,142.4L1581.5,144.8L1579.1,144.8L1571.1,144.7ZM1579.1,142.4L1581.5,142.4L1589.5,142.5L1589.5,144.9L1587.1,144.9L1579.1,144.8ZM1587.1,142.5L1589.5,142.5L1597.5,142.6L1597.5,145.0L1595.1,145.0L1587.1,144.9ZM1595.1,142.6L1597.5,142.6L1605.5,142.7L1605.5,145.1L1603.1,145.1L1595.1,145.0ZM1603.1,142.7L1605.5,142.7L1613.5,142.8L1613.5,145.2L1611.1,145.2L1603.1,145.1ZM1611.1,142.8L1613.5,142.8L1621.5,143.0L1621.5,145.4L1619.1,145.4L1611.1,145.2ZM1619.1,143.0L1621.5,143.0L1629.5,143.2L1629.5,145.6L1627.1,145.6L1619.1,145.4ZM1627.1,143.2L1629.5,143.2L1637.5,143.4L1637.5,145.8L1635.1,145.8L1627.1,145.6ZM1635.1,143.4L1637.5,143.4L1645.5,143.6L1645.5,146.0L1643.1,146.0L1635.1,145.8ZM1643.1,143.6L1645.5,143.6L1653.5,143.9L1653.5,146.3L1651.1,146.3L1643.1,146.0ZM1651.1,143.9L1653.5,143.9L1661.5,144.2L1661.5,146.6L1659.1,146.6L1651.1,146.3ZM1659.1,144.2L1661.5,144.2L1669.5,144.5L1669.5,146.9L1667.1,146.9L1659.1,146.6ZM1667.1,144.5L1669.5,144.5L1677.5,144.8L1677.5,147.2L1675.1,147.2L1667.1,146.9ZM1675.1,144.8L1677.5,144.8L1684.2,145.1L1684.2,147.5L1681.8,147.5L1675.1,147.2Z" fill="#000" stroke="#000"/>
</g>
<text x="238" y="153.9" font-size="50" text-anchor="end">0</text>
<text x="238" y="383.0" font-size="50" text-anchor="end">-50</text>
<text x="238" y="612.1" font-size="50" text-anchor="end">-100</text>
<text x="238" y="841.2" font-size="50" text-anchor="end">-150</text>
<text x="238" y="1070.3" font-size="50" text-anchor="end">-200</text>
<text x="261.9" y="1233.0" font-size="49.3" text-anchor="middle">-0.5</text>
<text x="545.9" y="1233.0" font-size="49.3" text-anchor="middle">-0.4</text>
<text x="829.8" y="1233.0" font-size="49.3" text-anchor="middle">-0.3</text>
<text x="1113.8" y="1233.0" font-size="49.3" text-anchor="middle">-0.2</text>
<text x="1397.7" y="1233.0" font-size="49.3" text-anchor="middle">-0.1</text>
<text x="1681.7" y="1233.0" font-size="49.3" text-anchor="middle">0.0</text>
<text x="972.6" y="1326.6" font-size="59.8" text-anchor="middle">Overpotential (V vs.RHE)</text>
<text transform="translate(75.5,562.3) rotate(-90)" font-size="60.1" text-anchor="middle">Current Density (mA cm<tspan font-size="39" dy="-24">−2</tspan><tspan dy="24">)</tspan></text>
<text x="357" y="140.5" font-size="59.6">pH=0</text>
<text font-size="77"><tspan x="65.4" y="144.4">(</tspan><tspan x="92.1" y="152.2" font-size="84">a</tspan><tspan x="135" y="144.4">)</tspan></text>
<path d="M1039,435H1178.5" stroke="#000" stroke-width="5.0"/>
<path d="M1039,509.5H1178.5" stroke="#ff0000" stroke-width="5.0"/>
<text x="1190.5" y="456.3" font-size="59.7">initial</text>
<text x="1190.5" y="530.5" font-size="59.7">after 1000 cycles</text>
</g>
<g id="panel-b">
<clipPath id="clipb"><rect x="1930.5" y="54.5" width="1390.5" height="1119.2"/></clipPath>
<path d="M1930.5,1103.8h11 M1930.5,1033.8h22 M1930.5,963.9h11 M1930.5,893.9h22 M1930.5,824.0h11 M1930.5,754.0h22 M1930.5,684.0h11 M1930.5,614.1h22 M1930.5,544.1h11 M1930.5,474.2h22 M1930.5,404.2h11 M1930.5,334.3h22 M1930.5,264.4h11 M1930.5,194.4h22 M1930.5,124.5h11 M2046.4,1173.7v-11 M2162.2,1173.7v-22 M2278.1,1173.7v-11 M2394.0,1173.7v-22 M2509.9,1173.7v-11 M2625.8,1173.7v-22 M2741.6,1173.7v-11 M2857.5,1173.7v-22 M2973.4,1173.7v-11 M3089.2,1173.7v-22 M3205.1,1173.7v-11" stroke="#000" stroke-width="6.0" fill="none"/>
<rect x="1930.5" y="54.5" width="1390.5" height="1119.2" fill="none" stroke="#000" stroke-width="6.0"/>
<g clip-path="url(#clipb)" fill="#000">
<circle cx="1933.1" cy="603.2" r="7"/>
<circle cx="1946.1" cy="618.4" r="7"/>
<circle cx="1959.1" cy="625.2" r="7"/>
<circle cx="1972.2" cy="626.8" r="7"/>
<circle cx="1985.2" cy="629.9" r="7"/>
<circle cx="1998.2" cy="631.6" r="7"/>
<circle cx="2011.2" cy="633.0" r="7"/>
<circle cx="2024.2" cy="634.2" r="7"/>
<circle cx="2037.3" cy="635.2" r="7"/>
<circle cx="2050.3" cy="636.0" r="7"/>
<circle cx="2063.3" cy="636.6" r="7"/>
<circle cx="2076.3" cy="637.0" r="7"/>
<circle cx="2089.3" cy="637.3" r="7"/>
<circle cx="2102.4" cy="637.5" r="7"/>
<circle cx="2115.4" cy="637.7" r="7"/>
<circle cx="2128.4" cy="638.0" r="7"/>
<circle cx="2141.4" cy="638.0" r="7"/>
<circle cx="2154.4" cy="638.3" r="7"/>
<circle cx="2167.5" cy="638.4" r="7"/>
<circle cx="2180.5" cy="638.0" r="7"/>
<circle cx="2193.5" cy="638.0" r="7"/>
<circle cx="2206.5" cy="638.5" r="7"/>
<circle cx="2219.5" cy="638.2" r="7"/>
<circle cx="2232.6" cy="638.1" r="7"/>
<circle cx="2245.6" cy="638.6" r="7"/>
<circle cx="2258.6" cy="638.3" r="7"/>
<circle cx="2271.6" cy="638.5" r="7"/>
<circle cx="2284.6" cy="638.3" r="7"/>
<circle cx="2297.7" cy="638.3" r="7"/>
<circle cx="2310.7" cy="638.0" r="7"/>
<circle cx="2323.7" cy="638.2" r="7"/>
<circle cx="2336.7" cy="638.3" r="7"/>
<circle cx="2349.7" cy="638.1" r="7"/>
<circle cx="2362.8" cy="638.2" r="7"/>
<circle cx="2375.8" cy="638.1" r="7"/>
<circle cx="2388.8" cy="637.7" r="7"/>
<circle cx="2401.8" cy="638.1" r="7"/>
<circle cx="2414.8" cy="637.9" r="7"/>
<circle cx="2427.9" cy="637.7" r="7"/>
<circle cx="2440.9" cy="637.5" r="7"/>
<circle cx="2453.9" cy="638.0" r="7"/>
<circle cx="2466.9" cy="637.7" r="7"/>
<circle cx="2479.9" cy="637.8" r="7"/>
<circle cx="2493.0" cy="637.9" r="7"/>
<circle cx="2506.0" cy="637.7" r="7"/>
<circle cx="2519.0" cy="637.8" r="7"/>
<circle cx="2532.0" cy="637.5" r="7"/>
<circle cx="2545.0" cy="637.7" r="7"/>
<circle cx="2558.1" cy="637.4" r="7"/>
<circle cx="2571.1" cy="637.7" r="7"/>
<circle cx="2584.1" cy="637.6" r="7"/>
<circle cx="2597.1" cy="637.1" r="7"/>
<circle cx="2610.1" cy="637.1" r="7"/>
<circle cx="2623.2" cy="637.2" r="7"/>
<circle cx="2636.2" cy="637.6" r="7"/>
<circle cx="2649.2" cy="637.3" r="7"/>
<circle cx="2662.2" cy="637.4" r="7"/>
<circle cx="2675.2" cy="637.3" r="7"/>
<circle cx="2688.3" cy="637.4" r="7"/>
<circle cx="2701.3" cy="637.4" r="7"/>
<circle cx="2714.3" cy="637.4" r="7"/>
<circle cx="2727.3" cy="637.6" r="7"/>
<circle cx="2740.3" cy="637.6" r="7"/>
<circle cx="2753.4" cy="637.9" r="7"/>
<circle cx="2766.4" cy="637.8" r="7"/>
<circle cx="2779.4" cy="638.0" r="7"/>
<circle cx="2792.4" cy="638.0" r="7"/>
<circle cx="2805.4" cy="638.1" r="7"/>
<circle cx="2818.5" cy="638.0" r="7"/>
<circle cx="2831.5" cy="637.7" r="7"/>
<circle cx="2844.5" cy="638.2" r="7"/>
<circle cx="2857.5" cy="638.3" r="7"/>
<circle cx="2870.5" cy="638.3" r="7"/>
<circle cx="2883.6" cy="638.1" r="7"/>
<circle cx="2896.6" cy="638.3" r="7"/>
<circle cx="2909.6" cy="638.0" r="7"/>
<circle cx="2922.6" cy="638.5" r="7"/>
<circle cx="2935.6" cy="638.6" r="7"/>
<circle cx="2948.7" cy="638.6" r="7"/>
<circle cx="2961.7" cy="638.7" r="7"/>
<circle cx="2974.7" cy="639.3" r="7"/>
<circle cx="2987.7" cy="639.7" r="7"/>
<circle cx="3000.7" cy="639.4" r="7"/>
<circle cx="3013.8" cy="640.1" r="7"/>
<circle cx="3026.8" cy="640.1" r="7"/>
<circle cx="3039.8" cy="640.2" r="7"/>
<circle cx="3052.8" cy="640.6" r="7"/>
<circle cx="3065.8" cy="641.1" r="7"/>
<circle cx="3078.9" cy="641.4" r="7"/>
<circle cx="3091.9" cy="641.2" r="7"/>
<circle cx="3104.9" cy="641.7" r="7"/>
<circle cx="3117.9" cy="641.5" r="7"/>
<circle cx="3130.9" cy="642.1" r="7"/>
<circle cx="3144.0" cy="642.1" r="7"/>
<circle cx="3157.0" cy="642.6" r="7"/>
<circle cx="3170.0" cy="642.9" r="7"/>
<circle cx="3183.0" cy="642.8" r="7"/>
<circle cx="3196.0" cy="643.3" r="7"/>
<circle cx="3209.1" cy="643.1" r="7"/>
<circle cx="3222.1" cy="643.2" r="7"/>
<circle cx="3235.1" cy="643.7" r="7"/>
<circle cx="3248.1" cy="643.6" r="7"/>
<circle cx="3261.1" cy="644.0" r="7"/>
<circle cx="3274.2" cy="644.4" r="7"/>
<circle cx="3287.2" cy="644.7" r="7"/>
<circle cx="3300.2" cy="644.7" r="7"/>
<circle cx="3313.2" cy="644.9" r="7"/>
</g>
<text x="1906.5" y="1188.6" font-size="48.2" text-anchor="end">0</text>
<text x="1906.5" y="1048.7" font-size="48.2" text-anchor="end">2</text>
<text x="1906.5" y="908.8" font-size="48.2" text-anchor="end">4</text>
<text x="1906.5" y="768.9" font-size="48.2" text-anchor="end">6</text>
<text x="1906.5" y="629.0" font-size="48.2" text-anchor="end">8</text>
<text x="1906.5" y="489.1" font-size="48.2" text-anchor="end">10</text>
<text x="1906.5" y="349.2" font-size="48.2" text-anchor="end">12</text>
<text x="1906.5" y="209.3" font-size="48.2" text-anchor="end">14</text>
<text x="1906.5" y="69.4" font-size="48.2" text-anchor="end">16</text>
<text x="1930.5" y="1234.5" font-size="48.2" text-anchor="middle">0</text>
<text x="2162.2" y="1234.5" font-size="48.2" text-anchor="middle">2</text>
<text x="2394.0" y="1234.5" font-size="48.2" text-anchor="middle">4</text>
<text x="2625.8" y="1234.5" font-size="48.2" text-anchor="middle">6</text>
<text x="2857.5" y="1234.5" font-size="48.2" text-anchor="middle">8</text>
<text x="3089.2" y="1234.5" font-size="48.2" text-anchor="middle">10</text>
<text x="3321.0" y="1234.5" font-size="48.2" text-anchor="middle">12</text>
<text x="2625.6" y="1326.7" font-size="58.2" text-anchor="middle">Time (h)</text>
<text transform="translate(1830.3,614.3) rotate(-90)" font-size="58.7" text-anchor="middle">Current Density (mA cm<tspan font-size="38" dy="-23.5">−2</tspan><tspan dy="23.5">)</tspan></text>
<text font-size="77"><tspan x="1745.4" y="149.3">(</tspan><tspan x="1771.8" y="158.8" font-size="90">b</tspan><tspan x="1823.5" y="149.3">)</tspan></text>
<circle cx="2817.2" cy="188.3" r="7.5" fill="#000"/>
<text x="2899" y="208.7" font-size="58.2">Mo<tspan font-size="39" dy="13">2</tspan><tspan dy="-13">C/MoS</tspan><tspan font-size="39" dy="13">2</tspan><tspan dy="-13">−</tspan><tspan dx="-3.5">1</tspan></text>
</g>
</g>
</svg></body></html>
